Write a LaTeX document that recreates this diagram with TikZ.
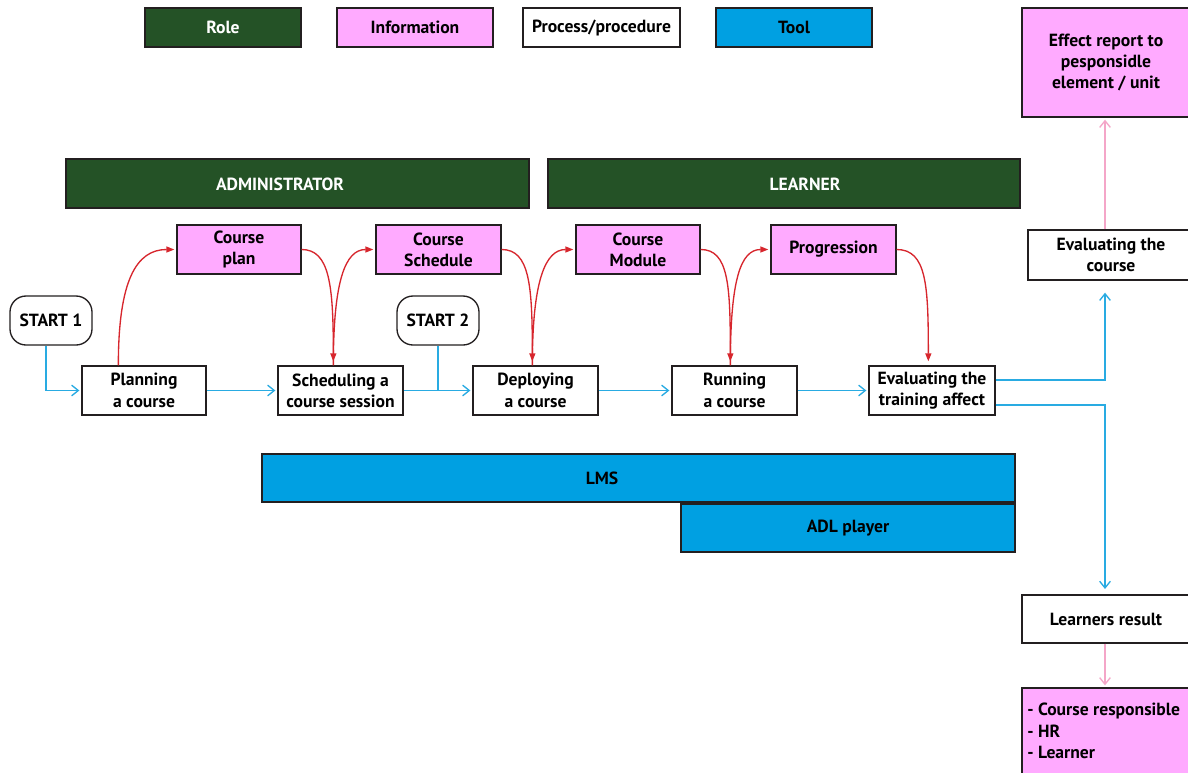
\documentclass[tikz,border=0pt]{standalone}
\usepackage{fontspec}
\setmainfont{PT Sans}
\usetikzlibrary{arrows.meta,calc}
\definecolor{rolegreen}{RGB}{36,82,38}
\definecolor{infopink}{RGB}{255,170,255}
\definecolor{toolblue}{RGB}{0,160,226}
\definecolor{flowblue}{RGB}{41,171,226}
\definecolor{flowred}{RGB}{215,38,45}
\definecolor{softpink}{RGB}{244,166,200}
\definecolor{edgegray}{RGB}{35,31,32}
\newcommand\mkbox[7]{\node[#2, minimum width={(#5-#3)*0.75pt}, minimum height={(#6-#4)*0.75pt}] (#1) at ({(#3+#5)/2},{(#4+#6)/2}) {#7};}
\tikzset{
  base/.style={draw=edgegray, line width=1pt, inner sep=0pt, align=center},
  role/.style={base, fill=rolegreen, text=white},
  info/.style={base, fill=infopink},
  proc/.style={base, fill=white},
  tool/.style={base, fill=toolblue},
  startbox/.style={base, fill=white, rounded corners=12pt},
  bluearrow/.style={draw=flowblue, line width=1pt, -{Straight Barb[length=5pt,width=8pt]}, shorten >=1.5pt},
  redarrow/.style={draw=flowred, line width=1pt, -{Triangle[length=6pt,width=4.5pt]}, shorten >=3pt},
  pinkarrow/.style={draw=softpink, line width=1pt, -{Straight Barb[length=5pt,width=8pt]}, shorten >=1.5pt},
  blueline/.style={draw=flowblue, line width=1pt}
}
\begin{document}
\begin{tikzpicture}[x=0.75pt, y=-0.75pt, font=\fontsize{13.2}{16}\selectfont\bfseries]
\fill[white] (0,0) rectangle (1188,772);
\useasboundingbox (0,0) rectangle (1188,772);
% legend
\mkbox{lrole}{role}{145}{8}{301}{47}{Role}
\mkbox{linfo}{info}{337}{8}{493}{47}{Information}
\mkbox{lproc}{proc}{523}{8}{680}{47}{Process/procedure}
\mkbox{ltool}{tool}{716}{8}{872}{47}{Tool}
% roles
\mkbox{admin}{role}{66}{159}{529}{208}{}
\node[text=white] (admintxt) at (280,184) {ADMINISTRATOR};
\mkbox{learner}{role}{548}{159}{1020}{208}{}
\node[text=white] (learnertxt) at (805,184) {LEARNER};
% information
\mkbox{cplan}{info}{177}{225}{301}{274}{Course\\plan}
\mkbox{csched}{info}{376}{225}{501}{274}{Course\\Schedule}
\mkbox{cmod}{info}{576}{225}{700}{274}{Course\\Module}
\mkbox{prog}{info}{771}{225}{896}{274}{Progression}
% starts
\mkbox{start1}{startbox}{10}{296}{92}{345}{START 1}
\mkbox{start2}{startbox}{397}{296}{479}{345}{START 2}
% processes
\mkbox{plan}{proc}{82}{366}{206}{415}{Planning\\a course}
\mkbox{sched}{proc}{278}{366}{403}{415}{Scheduling a\\course session}
\mkbox{deploy}{proc}{473}{366}{598}{415}{Deploying\\a course}
\mkbox{run}{proc}{672}{366}{797}{415}{Running\\a course}
\mkbox{evtrain}{proc}{869}{366}{995}{415}{Evaluating the\\training affect}
% tools
\mkbox{lms}{tool}{262}{454}{1015}{502}{}
\node (lmstxt) at (602,478) {LMS};
\mkbox{adl}{tool}{681}{504}{1015}{552}{ADL player}
% right column
\mkbox{effect}{info}{1022}{8}{1190}{117}{Effect report to\\pesponsidle\\element / unit}
\mkbox{evcourse}{proc}{1028}{230}{1194}{280}{Evaluating the\\course}
\mkbox{lresult}{proc}{1022}{595}{1190}{643}{Learners result}
\mkbox{recip}{info}{1022}{688}{1190}{776}{}
\node[inner sep=0pt, align=left, anchor=west] (reciptxt) at (1027,731) {- Course responsible\\- HR\\- Learner};
% anchor coordinates
\coordinate (planT) at ($(plan.north west)+(37,0)$);
\coordinate (schedT) at ($(sched.north west)+(56,0)$);
\coordinate (deployT) at ($(deploy.north west)+(60,0)$);
\coordinate (runT) at ($(run.north west)+(59,0)$);
\coordinate (evT) at ($(evtrain.north west)+(60,0)$);
\coordinate (s1) at ($(start1.south)+(-5,0)$);
\coordinate (joinS2) at (start2.south |- sched.east);
\coordinate (evHi) at ($(evtrain.east)+(0,-10.5)$);
\coordinate (evLo) at ($(evtrain.east)+(0,14.5)$);
\coordinate (rx) at (1105,0);
% blue flow
\draw[bluearrow] (s1) |- (plan.west);
\draw[bluearrow] (plan.east) -- (sched.west);
\draw[bluearrow] (sched.east) -- (deploy.west);
\draw[blueline] (start2.south) -- (joinS2);
\draw[bluearrow] (deploy.east) -- (run.west);
\draw[bluearrow] (run.east) -- (evtrain.west);
\draw[bluearrow, shorten >=9pt] (evHi) -| (rx |- evcourse.south);
\draw[bluearrow, shorten >=4pt] (evLo) -| (rx |- lresult.north);
% pink flow
\draw[pinkarrow] (rx |- evcourse.north) -- (rx |- effect.south);
\draw[pinkarrow] (rx |- lresult.south) -- (rx |- recip.north);
% red flow
\draw[redarrow, shorten >=1.5pt] (planT) .. controls +(0,-85) and +(-40,0) .. (cplan.west);
\draw[redarrow] (cplan.east) .. controls +(28,0) and +(0,-80) .. (schedT);
\draw[redarrow, shorten >=1.5pt] (schedT) .. controls +(0,-85) and +(-30,0) .. (csched.west);
\draw[redarrow] (csched.east) .. controls +(28,0) and +(0,-80) .. (deployT);
\draw[redarrow, shorten >=1.5pt] (deployT) .. controls +(0,-85) and +(-30,0) .. (cmod.west);
\draw[redarrow] (cmod.east) .. controls +(28,0) and +(0,-80) .. (runT);
\draw[redarrow, shorten >=1.5pt] (runT) .. controls +(0,-85) and +(-30,0) .. (prog.west);
\draw[redarrow] (prog.east) .. controls +(30,0) and +(0,-80) .. (evT);
\end{tikzpicture}
\end{document}
